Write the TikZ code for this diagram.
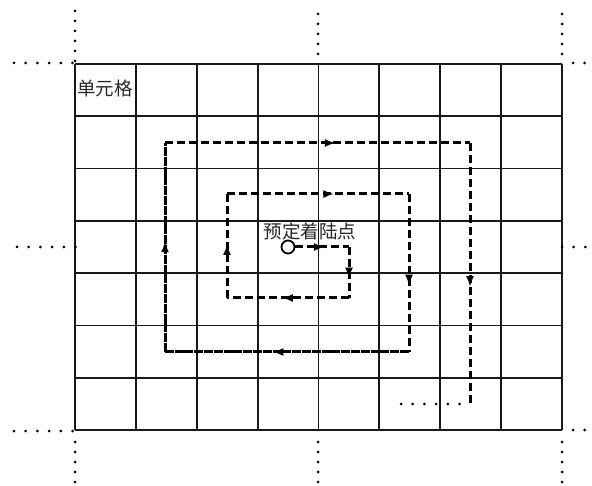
\documentclass[tikz,border=0pt]{standalone}
\usepackage{fontspec}
\newfontfamily\cjk{Noto Sans CJK SC}
\usetikzlibrary{arrows.meta,decorations.markings}
\begin{document}
\begin{tikzpicture}[x=1pt,y=-1pt,
  gridline/.style={line width=1.8pt, black!90},
  vdots/.style={line width=3pt, line cap=round, dash pattern=on 0pt off 10pt},
  hdots/.style={line width=3pt, line cap=round, dash pattern=on 0pt off 11.7pt},
  route/.style={line width=3pt, dash pattern=on 8pt off 4pt},
  routesolid/.style={line width=3pt, dash pattern=on 9pt off 0.8pt},
  arrowat/.style={postaction={decorate}, decoration={markings, mark=at position #1 with {\arrow{Latex[length=11pt,width=8pt]}}}},
  lbl/.style={font=\cjk\fontsize{18.5}{20}\selectfont, inner sep=0pt, text=black!85}
]
\useasboundingbox (0,0) rectangle (592,486);
% grid
\foreach \i in {0,...,8} {\draw[gridline] ({75+\i*60.875},64) -- ({75+\i*60.875},430);}
\foreach \j in {0,...,7} {\draw[gridline] (75,{64+\j*52.2857}) -- (562,{64+\j*52.2857});}
% outer dotted extensions
\draw[vdots] (75,11) -- (75,62);
\draw[vdots] (318,14) -- (318,56);
\draw[vdots] (562,14) -- (562,64);
\draw[hdots] (14,63) -- (74,63);
\draw[hdots] (573,63) -- (590,63);
\draw[hdots] (17,247) -- (76,247);
\draw[hdots] (562,247) -- (590,247);
\draw[hdots] (14,431) -- (74,431);
\draw[hdots] (573,430) -- (590,430);
\draw[vdots] (75,442) -- (75,486);
\draw[vdots] (318,442) -- (318,486);
\draw[vdots] (562,442) -- (562,486);
% labels
\node[lbl, anchor=west] (cell) at (77,88) {单元格};
\node[lbl] (target) at (310,231) {预定着陆点};
\node[circle, draw, line width=1.8pt, minimum size=13pt, inner sep=0pt] (start) at (288,247) {};
% spiral corners
\coordinate (p1) at (349,247);
\coordinate (p2) at (349,298);
\coordinate (p3) at (227,298);
\coordinate (p4) at (227,194);
\coordinate (p5) at (409,194);
\coordinate (p6) at (409,352);
\coordinate (p7) at (165,352);
\coordinate (p8) at (165,143);
\coordinate (p9) at (470,143);
\coordinate (p10) at (470,405);
\coordinate (tail) at (401,404);
\draw[route, arrowat=0.55] (start.east) -- (p1);
\draw[route, arrowat=0.62] (p1) -- (p2);
\draw[route, arrowat=0.55] (p2) -- (p3);
\draw[route, arrowat=0.52] (p3) -- (p4);
\draw[route, arrowat=0.59] (p4) -- (p5);
\draw[route, arrowat=0.58] (p5) -- (p6);
\draw[routesolid, arrowat=0.56] (p6) -- (p7);
\draw[routesolid, arrowat=0.53] (p7) -- (p8);
\draw[route, arrowat=0.56] (p8) -- (p9);
\draw[route, arrowat=0.55] (p9) -- (p10);
\draw[hdots] (tail) -- (460,404);
\end{tikzpicture}
\end{document}
